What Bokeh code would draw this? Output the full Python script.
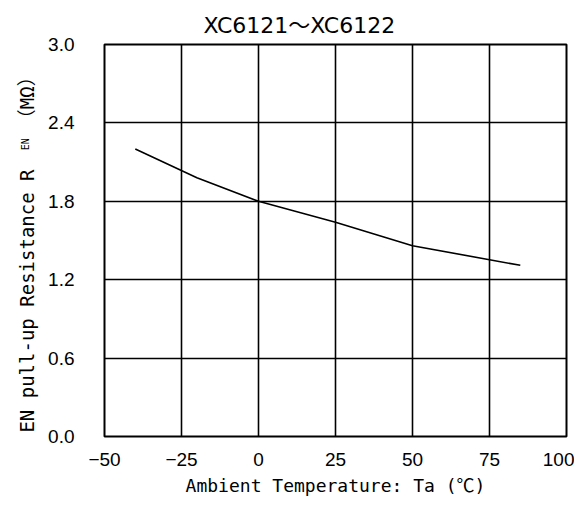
import math
from bokeh.plotting import figure
from bokeh.layouts import row
from bokeh.models import Range1d, FixedTicker
from bokeh.core.properties import value
from bokeh.embed import file_html
from bokeh.resources import INLINE

# data
temps = [-40, -20, 0, 25, 50, 85]
resistance = [2.20, 1.98, 1.80, 1.64, 1.46, 1.31]

x_ticks = [-50, -25, 0, 25, 50, 75, 100]
x_tick_labels = ["−50", "−25", "0", "25", "50", "75", "100"]
y_ticks = [0.0, 0.6, 1.2, 1.8, 2.4, 3.0]
y_tick_labels = ["0.0", "0.6", "1.2", "1.8", "2.4", "3.0"]

title_text = "XC6121～XC6122"
x_label = "Ambient Temperature: Ta (℃)"
y_label_main = "EN pull-up Resistance  R"
y_label_sub = "EN"
y_label_unit = "（MΩ）"

MONO = "'DejaVu Sans Mono', 'Noto Sans CJK JP', monospace"
TXT = "'DejaVu Sans', 'Noto Sans CJK JP', sans-serif"
NUM = "'Liberation Sans', Arial, sans-serif"

LEFT_W = 40
TOP, FRAME_H, BOTTOM = 44, 392, 66

# main chart
p = figure(frame_width=462, frame_height=FRAME_H, output_backend="svg", toolbar_location=None,
           x_range=Range1d(-50, 100), y_range=Range1d(0, 3.0),
           min_border_left=104 - LEFT_W, min_border_right=8, min_border_top=TOP,
           min_border_bottom=BOTTOM)

p.title.text = title_text
p.title.align = "left"
p.title.offset = 99
p.title.text_font = TXT
p.title.text_font_size = "22px"
p.title.text_font_style = "normal"
p.title.text_color = "black"
p.title.standoff = 13

p.line(temps, resistance, line_color="black", line_width=1.6)

for ax in (p.xaxis[0], p.yaxis[0]):
    ax.axis_line_color = None
    ax.major_tick_line_color = None
    ax.minor_tick_line_color = None
    ax.major_tick_out = 0
    ax.major_tick_in = 0
    ax.major_label_text_font = NUM
    ax.major_label_text_font_size = "19px"
    ax.major_label_text_color = "black"

p.xaxis.ticker = FixedTicker(ticks=x_ticks)
p.xaxis.major_label_overrides = {t: s for t, s in zip(x_ticks, x_tick_labels)}
p.xaxis.major_label_standoff = 16
p.xaxis.axis_label = x_label
p.xaxis.axis_label_text_font = MONO
p.xaxis.axis_label_text_font_size = "18px"
p.xaxis.axis_label_text_font_style = "normal"
p.xaxis.axis_label_text_color = "black"
p.xaxis.axis_label_standoff = 6

p.yaxis.ticker = FixedTicker(ticks=y_ticks)
p.yaxis.major_label_overrides = {t: s for t, s in zip(y_ticks, y_tick_labels)}
p.yaxis.major_label_standoff = 30

p.grid.grid_line_color = "black"
p.grid.grid_line_width = 1.6
p.grid.grid_line_alpha = 1.0
p.outline_line_color = "black"
p.outline_line_width = 2
p.background_fill_color = "white"

# narrow strip on the left carrying the rotated y-axis title; its frame is
# aligned with the main frame and shares the same 0..3 value range
side = figure(frame_width=LEFT_W, frame_height=FRAME_H, output_backend="svg",
              toolbar_location=None, x_range=Range1d(0, LEFT_W), y_range=Range1d(0, 3.0),
              x_axis_location=None, y_axis_location=None,
              min_border_left=0, min_border_right=0,
              min_border_top=TOP, min_border_bottom=BOTTOM)
side.grid.visible = False
side.outline_line_color = None
side.background_fill_color = "white"
side.border_fill_color = "white"

side.text(x=[26], y=[0.03], text=[y_label_main], angle=math.pi / 2,
          text_align="left", text_baseline="alphabetic",
          text_font=value(MONO), text_font_size="19px", text_color="black")
side.text(x=[25], y=[2.19], text=[y_label_sub], angle=math.pi / 2,
          text_align="left", text_baseline="alphabetic",
          text_font=value(MONO), text_font_size="10px", text_color="black")
side.text(x=[26], y=[2.36], text=[y_label_unit], angle=math.pi / 2,
          text_align="left", text_baseline="alphabetic",
          text_font=value(MONO), text_font_size="19px", text_color="black")

layout = row(side, p, spacing=0)
open("out.html", "w").write(file_html(layout, INLINE))
